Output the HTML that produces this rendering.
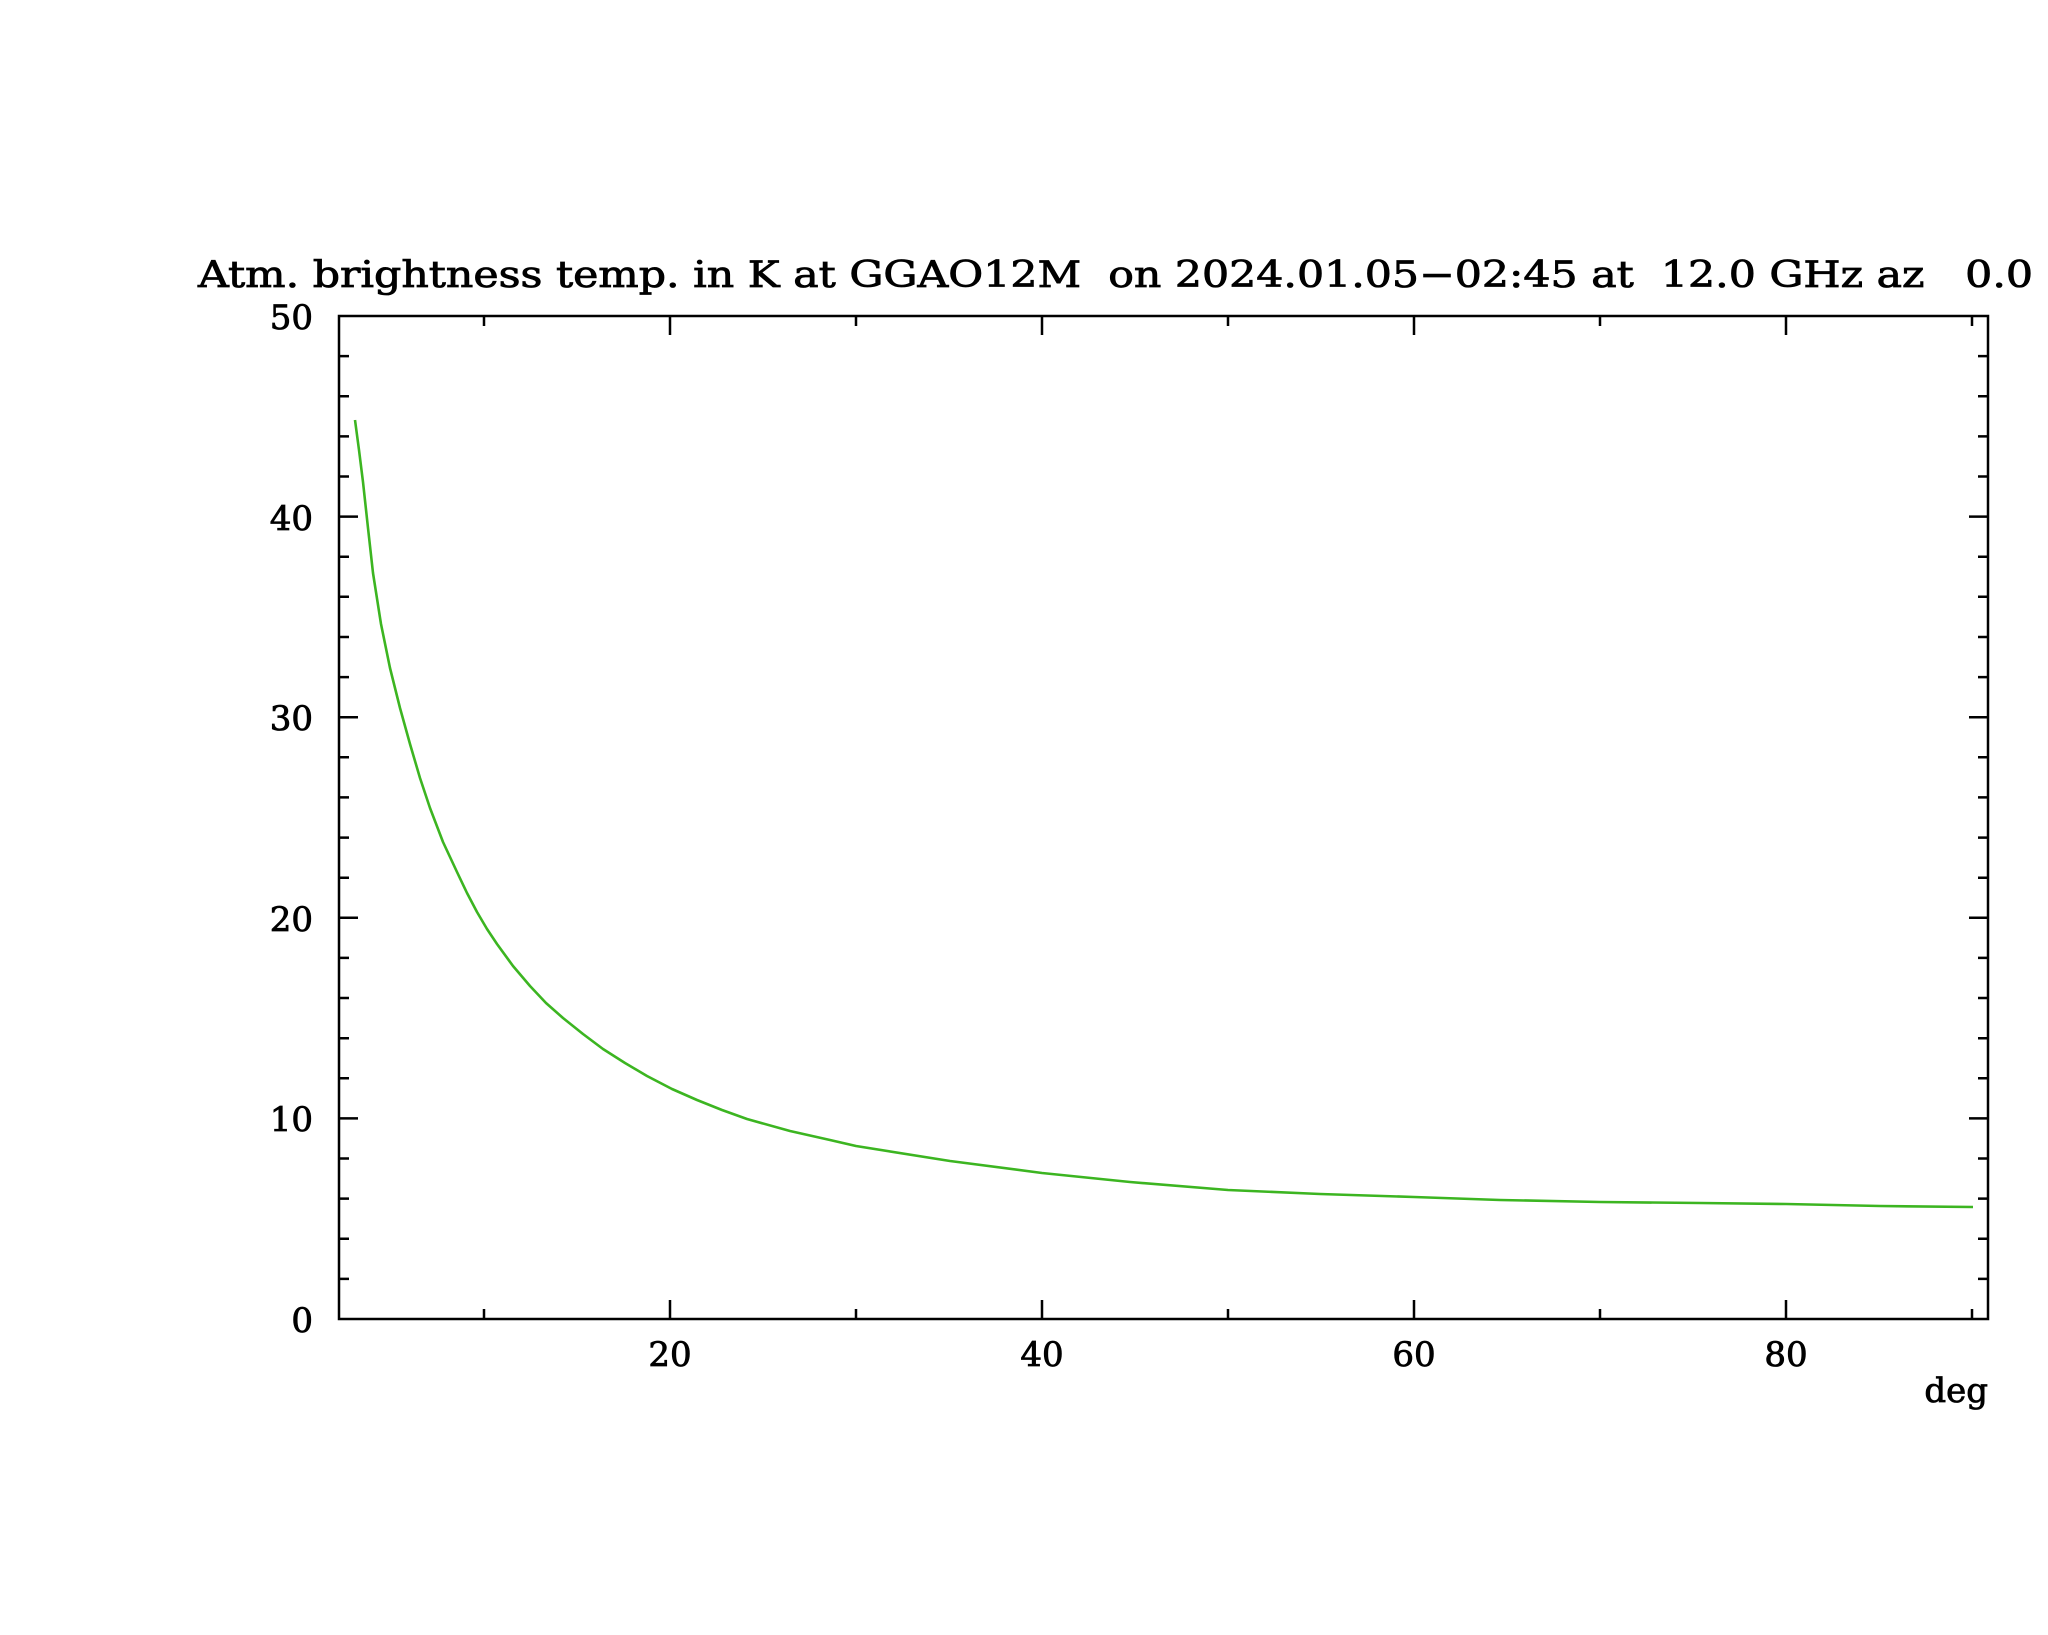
<!DOCTYPE html>
<html><head><meta charset="utf-8"><style>html,body{margin:0;padding:0;background:#fff}svg{display:block}</style></head>
<body>
<svg width="2048" height="1635" viewBox="0 0 2048 1635" xmlns="http://www.w3.org/2000/svg" font-family="'DejaVu Serif', 'Liberation Serif', serif" fill="#000">
<g stroke="#000" stroke-width="0.8">
<text x="198" y="287" font-size="36" textLength="1835" lengthAdjust="spacingAndGlyphs" xml:space="preserve">Atm. brightness temp. in K at GGAO12M  on 2024.01.05−02:45 at  12.0 GHz az   0.0</text>
<g font-size="34" text-anchor="end">
<text x="313" y="329">50</text>
<text x="313" y="530">40</text>
<text x="313" y="730">30</text>
<text x="313" y="931">20</text>
<text x="313" y="1131">10</text>
<text x="313" y="1332">0</text>
</g>
<g font-size="34" text-anchor="middle">
<text x="670" y="1366">20</text>
<text x="1042" y="1366">40</text>
<text x="1414" y="1366">60</text>
<text x="1786" y="1366">80</text>
</g>
<text x="1988" y="1402" font-size="34" text-anchor="end">deg</text>
</g>
<g stroke="#000" stroke-width="2.5" fill="none">
<rect x="339" y="316" width="1649" height="1003"/>
<path d="M339 1278.9h10M339 1238.8h10M339 1198.6h10M339 1158.5h10M339 1118.4h19M339 1078.3h10M339 1038.2h10M339 998h10M339 957.9h10M339 917.8h19M339 877.7h10M339 837.6h10M339 797.4h10M339 757.3h10M339 717.2h19M339 677.1h10M339 637h10M339 596.8h10M339 556.7h10M339 516.6h19M339 476.5h10M339 436.4h10M339 396.2h10M339 356.1h10"/>
<path d="M1988 1278.9h-10M1988 1238.8h-10M1988 1198.6h-10M1988 1158.5h-10M1988 1118.4h-19M1988 1078.3h-10M1988 1038.2h-10M1988 998h-10M1988 957.9h-10M1988 917.8h-19M1988 877.7h-10M1988 837.6h-10M1988 797.4h-10M1988 757.3h-10M1988 717.2h-19M1988 677.1h-10M1988 637h-10M1988 596.8h-10M1988 556.7h-10M1988 516.6h-19M1988 476.5h-10M1988 436.4h-10M1988 396.2h-10M1988 356.1h-10"/>
<path d="M484 1319v-10M670 1319v-19M856 1319v-10M1042 1319v-19M1228 1319v-10M1414 1319v-19M1600 1319v-10M1786 1319v-19M1972 1319v-10"/>
<path d="M484 316v10M670 316v19M856 316v10M1042 316v19M1228 316v10M1414 316v19M1600 316v10M1786 316v19M1972 316v10"/>
</g>
<polyline fill="none" stroke="#3cb521" stroke-width="2.6" stroke-linejoin="round" points="355,420 359,450 363,482 368,528 373,573 381,624 390,668 400,708 410,744 420,778 430,808 443,842 457,872 467,893 477,912 487,929 497,944 513,966 530,986 546,1003 563,1018 583,1034 603,1049 625,1063 647,1076 672,1089 697,1100 722,1110 747,1119 790,1131 830,1140 856,1146 950,1161 1042,1173 1130,1182 1228,1190 1320,1194 1414,1197 1500,1200 1600,1202 1700,1203 1786,1204 1880,1206 1973,1207"/>
</svg>
</body></html>
